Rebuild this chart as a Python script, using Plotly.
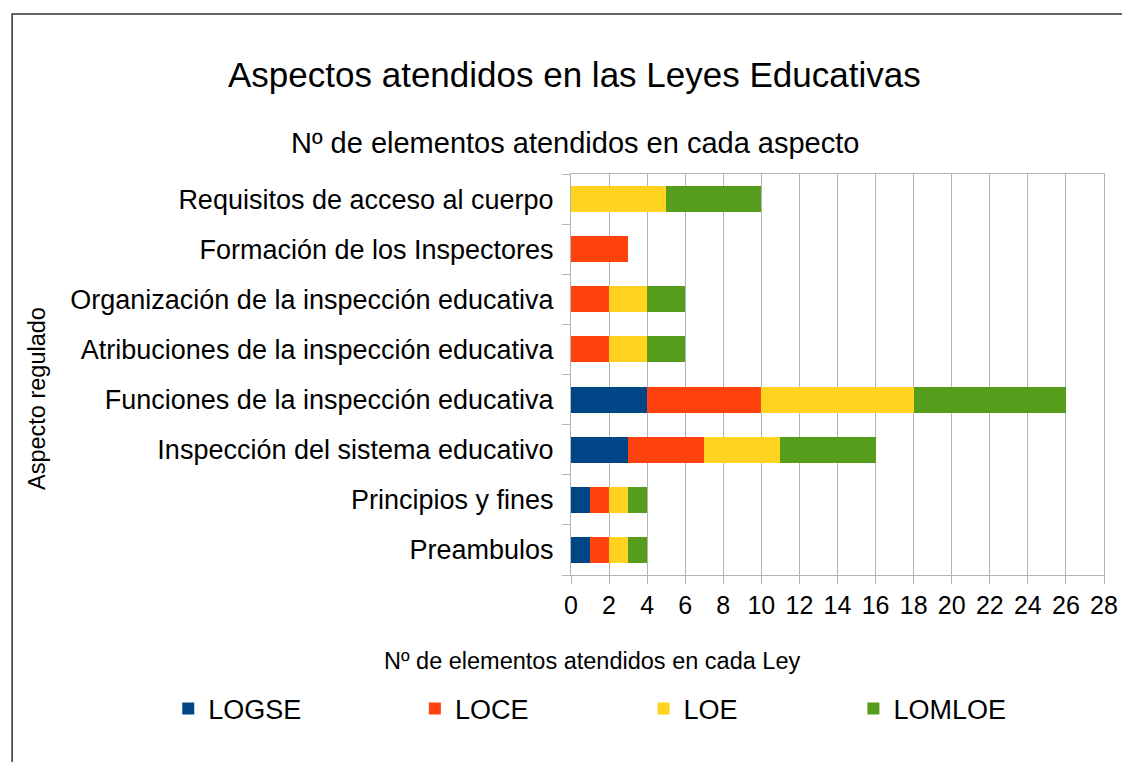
import plotly.graph_objects as go


# =========================
# DATA
# =========================
aspectos = [
    "Preambulos",
    "Principios y fines",
    "Inspección del sistema educativo",
    "Funciones de la inspección educativa",
    "Atribuciones de la inspección educativa",
    "Organización de la inspección educativa",
    "Formación de los Inspectores",
    "Requisitos de acceso al cuerpo",
]

logse = [1, 1, 3, 4, 0, 0, 0, 0]
loce = [1, 1, 4, 6, 2, 2, 3, 0]
loe = [1, 1, 4, 8, 2, 2, 0, 5]
lomloe = [1, 1, 5, 8, 2, 2, 0, 5]

leyes = ["LOGSE", "LOCE", "LOE", "LOMLOE"]
colores = ["#004586", "#ff420e", "#ffd320", "#579d1c"]

x_ticks = list(range(0, 29, 2))


# =========================
# CHART
# =========================
FONT = "Liberation Sans, Arial, sans-serif"
GRID = "#b3b3b3"

# the html body has an 8px margin, so the figure is a bit smaller than the window
OFF = 8
W, H = 1130 - OFF, 762 - OFF

# plot area, in window pixels
L, R, T, B = 571, 1107, 174, 575


def px_x(px):
    return (px - L) / (R - L)


def px_y(py):
    return (B - py) / (B - T)


fig = go.Figure()

for i, (name, vals) in enumerate(zip(leyes, [logse, loce, loe, lomloe])):
    fig.add_trace(go.Bar(
        y=aspectos,
        x=vals,
        name=name,
        orientation="h",
        marker=dict(color=colores[i], line=dict(width=0)),
        legend="legend" if i == 0 else f"legend{i + 1}",
    ))

# one legend per law so each entry sits where it does in the original
legend_x = [180, 428, 658, 869]
legends = {}
for i, lx in enumerate(legend_x):
    key = "legend" if i == 0 else f"legend{i + 1}"
    legends[key] = dict(
        x=px_x(lx - 14),
        y=px_y(709),
        xanchor="left",
        yanchor="middle",
        orientation="h",
        font=dict(family=FONT, size=27, color="#000000"),
        bgcolor="rgba(0,0,0,0)",
    )

fig.update_layout(
    width=W,
    height=H,
    barmode="stack",
    bargap=0.48,
    plot_bgcolor="white",
    paper_bgcolor="white",
    margin=dict(l=L - OFF, r=1130 - R, t=T - OFF, b=762 - B),
    font=dict(family=FONT, color="#000000"),
    showlegend=True,
    **legends,
)

fig.update_xaxes(
    range=[0, 28],
    tickvals=x_ticks,
    showgrid=True,
    gridcolor=GRID,
    gridwidth=1,
    showline=True,
    linecolor=GRID,
    mirror=True,
    ticks="outside",
    ticklen=8,
    tickcolor=GRID,
    tickfont=dict(family=FONT, size=25, color="#000000"),
    zeroline=False,
    fixedrange=True,
)

fig.update_yaxes(
    categoryorder="array",
    categoryarray=aspectos,
    showgrid=False,
    showline=True,
    linecolor=GRID,
    mirror=True,
    ticks="outside",
    tickson="boundaries",
    ticklen=8,
    tickcolor=GRID,
    ticklabelstandoff=11,
    tickfont=dict(family=FONT, size=27, color="#000000"),
    fixedrange=True,
)

# titles
fig.add_annotation(
    text="Aspectos atendidos en las Leyes Educativas",
    xref="paper", yref="paper", x=px_x(575), y=px_y(74),
    xanchor="center", yanchor="middle", showarrow=False,
    font=dict(family=FONT, size=35, color="#000000"),
)
fig.add_annotation(
    text="Nº de elementos atendidos en cada aspecto",
    xref="paper", yref="paper", x=px_x(575), y=px_y(143),
    xanchor="center", yanchor="middle", showarrow=False,
    font=dict(family=FONT, size=29, color="#000000"),
)
fig.add_annotation(
    text="Nº de elementos atendidos en cada Ley",
    xref="paper", yref="paper", x=px_x(592), y=px_y(661),
    xanchor="center", yanchor="middle", showarrow=False,
    font=dict(family=FONT, size=23.5, color="#000000"),
)
fig.add_annotation(
    text="Aspecto regulado",
    xref="paper", yref="paper", x=px_x(34), y=px_y(399),
    xanchor="center", yanchor="middle", showarrow=False, textangle=-90,
    font=dict(family=FONT, size=23.5, color="#000000"),
)

# outer frame of the chart (cropped at right and bottom)
fig.add_shape(
    type="rect", xref="paper", yref="paper",
    x0=px_x(9), x1=px_x(1145), y0=px_y(14), y1=px_y(790),
    line=dict(color="#333333", width=1.5),
    layer="below",
)

fig.write_html("out.html")
